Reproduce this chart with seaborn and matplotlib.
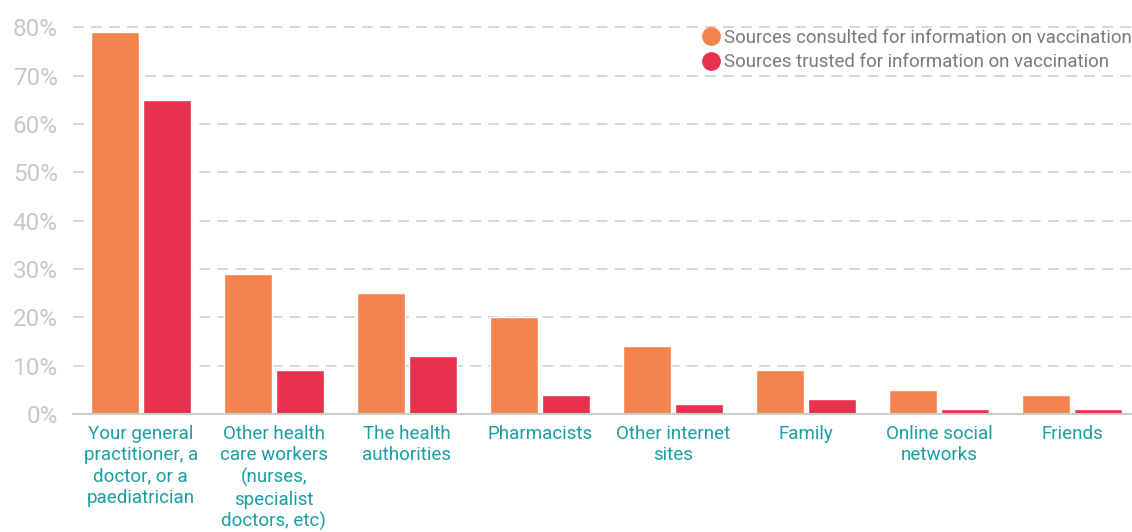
import pandas as pd
import numpy as np
import matplotlib.pyplot as plt
import seaborn as sns

# Data (percent)

categories = [
    "Your general\npractitioner, a\ndoctor, or a\npaediatrician",
    "Other health\ncare workers\n(nurses,\nspecialist\ndoctors, etc)",
    "The health\nauthorities",
    "Pharmacists",
    "Other internet\nsites",
    "Family",
    "Online social\nnetworks",
    "Friends",
]
consulted = [79, 29, 25, 20, 14, 9, 5, 4]
trusted = [65, 9, 12, 4, 2, 3, 1, 1]
series_names = ["Sources consulted for information on vaccination",
                "Sources trusted for information on vaccination"]
y_ticks = [0, 10, 20, 30, 40, 50, 60, 70, 80]

df = pd.DataFrame({
    "category": categories * 2,
    "value": consulted + trusted,
    "series": [series_names[0]] * len(categories) + [series_names[1]] * len(categories),
})

sns.set_style("white")
plt.rcParams['font.family'] = ['Roboto', 'DejaVu Sans']

fig = plt.figure(figsize=(11.32, 5.32), dpi=100)
ax = fig.add_axes([73 / 1132, 118 / 532, 1 - 73 / 1132, (414 - 20) / 532])

palette = ["#F58350", "#E6324F"]
sns.barplot(data=df, x="category", y="value", hue="series", palette=palette,
            width=0.78, gap=0.07, saturation=1, ax=ax, zorder=3)

ax.set_ylim(0, 81.5)
ax.set_xlim(-0.51, 7.45)
ax.set_yticks(y_ticks)
ax.set_yticklabels([f"{t}%" for t in y_ticks], fontsize=17.5, color="#c8c8c8")
ax.tick_params(axis="y", length=0, pad=11)
ax.tick_params(axis="x", length=0, pad=8)
for lab in ax.get_xticklabels():
    lab.set_color("#1a9ea3")
    lab.set_fontsize(13.5)
    lab.set_linespacing(1.24)
    lab.set_verticalalignment("top")

ax.yaxis.grid(True, color="#d4d4d4", linestyle=(0, (6, 4)), linewidth=1.3, zorder=0)
ax.xaxis.grid(False)
for s in ["top", "right", "left"]:
    ax.spines[s].set_visible(False)
ax.spines["bottom"].set_color("#cccccc")
ax.spines["bottom"].set_linewidth(1.5)
ax.spines["bottom"].set_zorder(4)
ax.set_xlabel("")
ax.set_ylabel("")

handles = [plt.Line2D([], [], marker="o", linestyle="", markersize=12.5,
                      markerfacecolor=c, markeredgecolor=c) for c in palette]
leg = ax.legend(handles, series_names, loc="upper right", bbox_to_anchor=(1.0, 0.978),
                frameon=False, fontsize=13.4, handletextpad=0.1, labelspacing=0.35,
                handlelength=1.2, borderaxespad=0, borderpad=0)
for t in leg.get_texts():
    t.set_color("#7a7a7a")

fig.savefig("out.png", dpi=100)
